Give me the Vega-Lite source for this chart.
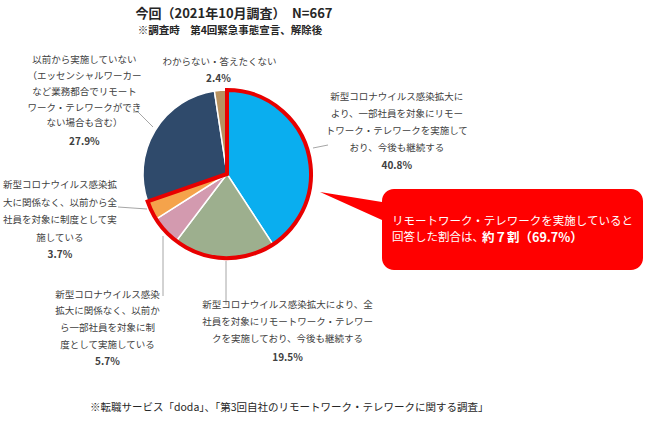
{
  "$schema": "https://vega.github.io/schema/vega-lite/v6.json",
  "width": 454,
  "height": 268,
  "autosize": "none",
  "padding": {"left": 0, "top": 40, "right": 196, "bottom": 115},
  "background": "white",
  "config": {"view": {"stroke": null}, "font": "Noto Sans CJK JP"},
  "data": {
    "values": [
      {"idx": 1, "k": "A", "v": 40.8, "label": "新型コロナウイルス感染拡大に\nより、一部社員を対象にリモー\nトワーク・テレワークを実施して\nおり、今後も継続する", "pct": "40.8%"},
      {"idx": 2, "k": "B", "v": 19.5, "label": "新型コロナウイルス感染拡大により、全\n社員を対象にリモートワーク・テレワー\nクを実施しており、今後も継続する", "pct": "19.5%"},
      {"idx": 3, "k": "C", "v": 5.7, "label": "新型コロナウイルス感染\n拡大に関係なく、以前か\nら一部社員を対象に制\n度として実施している", "pct": "5.7%"},
      {"idx": 4, "k": "D", "v": 3.7, "label": "新型コロナウイルス感染拡\n大に関係なく、以前から全\n社員を対象に制度として実\n施している", "pct": "3.7%"},
      {"idx": 5, "k": "E", "v": 27.9, "label": "以前から実施していない\n（エッセンシャルワーカー\nなど業務都合でリモート\nワーク・テレワークができ\nない場合も含む）", "pct": "27.9%"},
      {"idx": 6, "k": "F", "v": 2.4, "label": "わからない・答えたくない", "pct": "2.4%"}
    ]
  },
  "layer": [
    {
      "mark": {"type": "arc", "outerRadius": 84, "stroke": "white", "strokeWidth": 1.5},
      "encoding": {
        "theta": {"field": "v", "type": "quantitative", "stack": true},
        "order": {"field": "idx", "type": "quantitative"},
        "color": {"field": "k", "type": "nominal", "legend": null,
          "scale": {"domain": ["A", "B", "C", "D", "E", "F"],
                    "range": ["#0AAEEF", "#9DAF8E", "#D39AAF", "#F5A34B", "#2F4A6B", "#B8925F"]}}
      }
    },
    {
      "data": {"values": [{"g": "r", "idx": 1, "v": 69.7}, {"g": "o", "idx": 2, "v": 30.3}]},
      "mark": {"type": "arc", "outerRadius": 84, "strokeWidth": 4, "fillOpacity": 0, "strokeJoin": "miter"},
      "encoding": {
        "theta": {"field": "v", "type": "quantitative", "stack": true},
        "order": {"field": "idx", "type": "quantitative"},
        "stroke": {"field": "g", "type": "nominal", "legend": null,
          "scale": {"domain": ["r", "o"], "range": ["#E80000", "transparent"]}}
      }
    },
    {
      "data": {"values": [{"n": "leaders"}]},
      "mark": {"type": "point", "shape": "M 86 -26 L 101 -29 M -94 -62 L -89 -62 L -74 -47 M -109 33 L -80 35 M -64 62 L -64 122 M -1 87 L -1 131", "size": 4, "filled": false, "stroke": "#A6A6A6", "strokeWidth": 1, "opacity": 1},
      "encoding": {}
    },
    {"mark": {"type": "text", "radius": 100, "dx": 74, "dy": -53, "align": "center", "baseline": "top", "lineBreak": "\n", "lineHeight": 17, "fontSize": 9.5, "color": "#404040"},
     "encoding": {"theta": {"field": "v", "type": "quantitative", "stack": true}, "order": {"field": "idx", "type": "quantitative"},
       "text": {"condition": {"test": "datum.k === 'A'", "field": "label"}, "value": ""}}},
    {"mark": {"type": "text", "radius": 100, "dx": 74, "dy": 21, "align": "center", "baseline": "middle", "fontSize": 10, "fontWeight": "bold", "color": "#404040"},
     "encoding": {"theta": {"field": "v", "type": "quantitative", "stack": true}, "order": {"field": "idx", "type": "quantitative"},
       "text": {"condition": {"test": "datum.k === 'A'", "field": "pct"}, "value": ""}}},
    {"mark": {"type": "text", "radius": 100, "dx": 64, "dy": 26, "align": "center", "baseline": "top", "lineBreak": "\n", "lineHeight": 17, "fontSize": 9.5, "color": "#404040"},
     "encoding": {"theta": {"field": "v", "type": "quantitative", "stack": true}, "order": {"field": "idx", "type": "quantitative"},
       "text": {"condition": {"test": "datum.k === 'B'", "field": "label"}, "value": ""}}},
    {"mark": {"type": "text", "radius": 100, "dx": 64, "dy": 84, "align": "center", "baseline": "middle", "fontSize": 10, "fontWeight": "bold", "color": "#404040"},
     "encoding": {"theta": {"field": "v", "type": "quantitative", "stack": true}, "order": {"field": "idx", "type": "quantitative"},
       "text": {"condition": {"test": "datum.k === 'B'", "field": "pct"}, "value": ""}}},
    {"mark": {"type": "text", "radius": 100, "dx": -46, "dy": 48, "align": "center", "baseline": "top", "lineBreak": "\n", "lineHeight": 16.7, "fontSize": 9.5, "color": "#404040"},
     "encoding": {"theta": {"field": "v", "type": "quantitative", "stack": true}, "order": {"field": "idx", "type": "quantitative"},
       "text": {"condition": {"test": "datum.k === 'C'", "field": "label"}, "value": ""}}},
    {"mark": {"type": "text", "radius": 100, "dx": -46, "dy": 120, "align": "center", "baseline": "middle", "fontSize": 10, "fontWeight": "bold", "color": "#404040"},
     "encoding": {"theta": {"field": "v", "type": "quantitative", "stack": true}, "order": {"field": "idx", "type": "quantitative"},
       "text": {"condition": {"test": "datum.k === 'C'", "field": "pct"}, "value": ""}}},
    {"mark": {"type": "text", "radius": 100, "dx": -77, "dy": -37, "align": "center", "baseline": "top", "lineBreak": "\n", "lineHeight": 17.5, "fontSize": 9.5, "color": "#404040"},
     "encoding": {"theta": {"field": "v", "type": "quantitative", "stack": true}, "order": {"field": "idx", "type": "quantitative"},
       "text": {"condition": {"test": "datum.k === 'D'", "field": "label"}, "value": ""}}},
    {"mark": {"type": "text", "radius": 100, "dx": -77, "dy": 38, "align": "center", "baseline": "middle", "fontSize": 10, "fontWeight": "bold", "color": "#404040"},
     "encoding": {"theta": {"field": "v", "type": "quantitative", "stack": true}, "order": {"field": "idx", "type": "quantitative"},
       "text": {"condition": {"test": "datum.k === 'D'", "field": "pct"}, "value": ""}}},
    {"mark": {"type": "text", "radius": 100, "dx": -57, "dy": -67, "align": "center", "baseline": "top", "lineBreak": "\n", "lineHeight": 15.8, "fontSize": 9.5, "color": "#404040"},
     "encoding": {"theta": {"field": "v", "type": "quantitative", "stack": true}, "order": {"field": "idx", "type": "quantitative"},
       "text": {"condition": {"test": "datum.k === 'E'", "field": "label"}, "value": ""}}},
    {"mark": {"type": "text", "radius": 100, "dx": -57, "dy": 20, "align": "center", "baseline": "middle", "fontSize": 10, "fontWeight": "bold", "color": "#404040"},
     "encoding": {"theta": {"field": "v", "type": "quantitative", "stack": true}, "order": {"field": "idx", "type": "quantitative"},
       "text": {"condition": {"test": "datum.k === 'E'", "field": "pct"}, "value": ""}}},
    {"mark": {"type": "text", "radius": 100, "dx": 0, "dy": -12, "align": "center", "baseline": "middle", "fontSize": 9.5, "color": "#404040"},
     "encoding": {"theta": {"field": "v", "type": "quantitative", "stack": true}, "order": {"field": "idx", "type": "quantitative"},
       "text": {"condition": {"test": "datum.k === 'F'", "field": "label"}, "value": ""}}},
    {"mark": {"type": "text", "radius": 100, "dx": -1, "dy": 5, "align": "center", "baseline": "middle", "fontSize": 10, "fontWeight": "bold", "color": "#404040"},
     "encoding": {"theta": {"field": "v", "type": "quantitative", "stack": true}, "order": {"field": "idx", "type": "quantitative"},
       "text": {"condition": {"test": "datum.k === 'F'", "field": "pct"}, "value": ""}}},
    {
      "data": {"values": [{"n": "callout"}]},
      "mark": {"type": "point", "shape": "M 167 15 L 404 15 A 12 12 0 0 1 416 27 L 416 84 A 12 12 0 0 1 404 96 L 167 96 A 12 12 0 0 1 155 84 L 155 46 L 93 18 L 155 28 L 155 27 A 12 12 0 0 1 167 15 Z", "size": 4, "filled": true, "fill": "#FF0000", "strokeWidth": 0, "opacity": 1},
      "encoding": {}
    },
    {
      "data": {"values": [{"t": "リモートワーク・テレワークを実施していると"}]},
      "mark": {"type": "text", "align": "left", "baseline": "middle", "dx": 165, "dy": 48, "fontSize": 11.5, "color": "white"},
      "encoding": {"text": {"field": "t"}}
    },
    {
      "data": {"values": [{"t": "回答した割合は、"}]},
      "mark": {"type": "text", "align": "left", "baseline": "middle", "dx": 165, "dy": 64, "fontSize": 11.5, "color": "white"},
      "encoding": {"text": {"field": "t"}}
    },
    {
      "data": {"values": [{"t": "約７割（69.7%）"}]},
      "mark": {"type": "text", "align": "left", "baseline": "middle", "dx": 255, "dy": 64, "fontSize": 12.5, "fontWeight": "bold", "color": "white"},
      "encoding": {"text": {"field": "t"}}
    },
    {
      "data": {"values": [{"t": "今回（2021年10月調査）　N=667"}]},
      "mark": {"type": "text", "align": "center", "baseline": "middle", "dx": 7, "dy": -160, "fontSize": 13, "fontWeight": "bold", "color": "#262626"},
      "encoding": {"text": {"field": "t"}}
    },
    {
      "data": {"values": [{"t": "※調査時　第4回緊急事態宣言、解除後"}]},
      "mark": {"type": "text", "align": "center", "baseline": "middle", "dx": 3, "dy": -143, "fontSize": 10.5, "fontWeight": "bold", "color": "#262626"},
      "encoding": {"text": {"field": "t"}}
    },
    {
      "data": {"values": [{"t": "※転職サービス「doda」、「第3回自社のリモートワーク・テレワークに関する調査」"}]},
      "mark": {"type": "text", "align": "left", "baseline": "middle", "dx": -137, "dy": 234, "fontSize": 10.5, "color": "#262626"},
      "encoding": {"text": {"field": "t"}}
    }
  ]
}
